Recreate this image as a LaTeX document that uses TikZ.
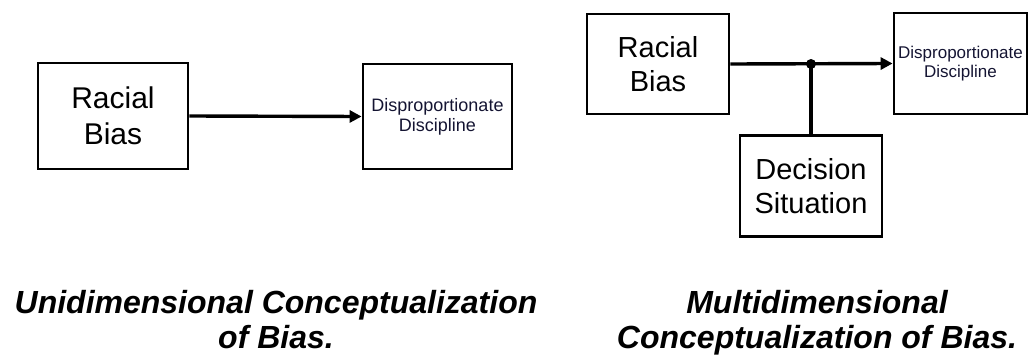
\documentclass[tikz,border=0pt]{standalone}
\usepackage{fontspec}
\setmainfont{Liberation Sans}
\usetikzlibrary{arrows.meta}
\tikzset{
  boxnode/.style={draw=black, line width=2.8pt, inner sep=0pt, align=center, text=black},
  dispnode/.style={boxnode, text=dispcol},
  conn/.style={line width=3.4pt, black},
  arr/.style={conn, -{Triangle[length=12pt,width=12pt]}},
  caption/.style={inner sep=0pt, align=center, anchor=north, font=\fontsize{32}{35}\selectfont\bfseries\itshape},
}
\definecolor{dispcol}{RGB}{20,20,50}
\begin{document}
\begin{tikzpicture}[x=1pt,y=-1pt]
\useasboundingbox (0,0) rectangle (1028,356);
% left panel
\node[boxnode, minimum width=150pt, minimum height=106pt, font=\fontsize{30}{36}\selectfont] (lr) at (113,116) {Racial\\Bias};
\node[dispnode, minimum width=149pt, minimum height=105pt, font=\fontsize{18}{20}\selectfont] (ld) at (437.5,116.5) {Disproportionate\\Discipline};
\draw[arr] (lr.east) -- (ld.west);
\node[caption] (lcap) at (276,290) {Unidimensional Conceptualization\\of Bias.};
% right panel
\node[boxnode, minimum width=142pt, minimum height=100pt, font=\fontsize{29}{34}\selectfont] (rr) at (658,64) {Racial\\Bias};
\node[dispnode, minimum width=133pt, minimum height=101pt, font=\fontsize{17}{19}\selectfont] (rd) at (960.5,63.5) {Disproportionate\\Discipline};
\node[boxnode, minimum width=142pt, minimum height=101pt, font=\fontsize{29}{34}\selectfont] (dec) at (811,186) {Decision\\Situation};
\coordinate (j) at (dec.north |- rr.east);
\draw[arr] (rr.east) -- (rd.west);
\draw[conn] (dec.north) -- (j);
\fill[black] (j) circle (5pt);
\node[caption] (rcap) at (817,290) {Multidimensional\\Conceptualization of Bias.};
\end{tikzpicture}
\end{document}
